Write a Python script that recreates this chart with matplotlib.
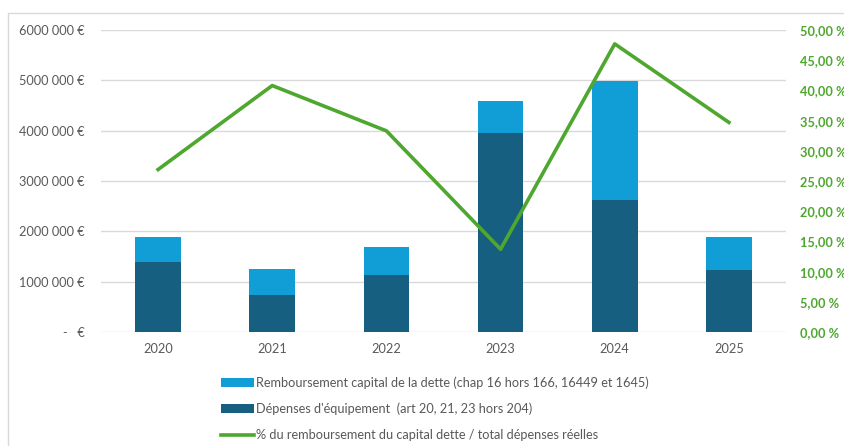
import matplotlib
matplotlib.use("Agg")
import matplotlib.pyplot as plt
from matplotlib.patches import Rectangle
from matplotlib.ticker import FuncFormatter, MultipleLocator

# ── data ─────────────────────────────────────────────────────
years = ["2020", "2021", "2022", "2023", "2024", "2025"]
equipement = [1390000, 740000, 1140000, 3950000, 2620000, 1230000]
remboursement = [505000, 520000, 540000, 630000, 2370000, 650000]
pct_remb = [26.9, 40.8, 33.3, 13.7, 47.7, 34.7]

LABEL_REMB = "Remboursement capital de la dette (chap 16 hors 166, 16449 et 1645)"
LABEL_EQUIP = "Dépenses d'équipement  (art 20, 21, 23 hors 204)"
LABEL_PCT = "% du remboursement du capital dette / total dépenses réelles"

C_LIGHT = "#119ED7"
C_DARK = "#175F81"
C_GREEN = "#4EA72E"
C_TEXT = "#595959"

plt.rcParams["font.family"] = ["Lato", "DejaVu Sans"]


def euro(v, _):
    if v == 0:
        return "-   €"
    s = f"{int(round(v)):d}"
    return f"{s[:-3]} {s[-3:]} €"


def pct(v, _):
    return f"{v:.2f}".replace(".", ",") + " %"


fig = plt.figure(figsize=(8.45, 4.46), dpi=100)
ax = fig.add_axes([101 / 845, 1 - 332 / 446, 685 / 845, 302 / 446])
x = range(len(years))

ax.bar(x, equipement, 0.4, color=C_DARK, label=LABEL_EQUIP, zorder=2)
ax.bar(x, remboursement, 0.4, bottom=equipement, color=C_LIGHT, label=LABEL_REMB, zorder=2)
ax.set_xlim(-0.5, len(years) - 0.5)
ax.set_ylim(0, 6000000)
ax.yaxis.set_major_locator(MultipleLocator(1000000))
ax.yaxis.set_major_formatter(FuncFormatter(euro))
ax.grid(axis="y", color="#D9D9D9", lw=1, zorder=0)
ax.set_axisbelow(True)
ax.set_xticks(list(x), years)
ax.tick_params(axis="both", length=0, colors=C_TEXT, labelsize=9.2)
ax.tick_params(axis="y", pad=12)
ax.tick_params(axis="x", pad=8)
for sp in ax.spines.values():
    sp.set_visible(False)

ax2 = ax.twinx()
ax2.plot(x, pct_remb, color=C_GREEN, lw=2.6, label=LABEL_PCT, zorder=3)
ax2.set_ylim(0, 50)
ax2.yaxis.set_major_locator(MultipleLocator(5))
ax2.yaxis.set_major_formatter(FuncFormatter(pct))
ax2.tick_params(axis="y", length=0, colors=C_GREEN, labelsize=9.2, pad=10)
for lab in ax2.get_yticklabels():
    lab.set_fontweight("bold")
for sp in ax2.spines.values():
    sp.set_visible(False)

h1, l1 = ax.get_legend_handles_labels()
h2, l2 = ax2.get_legend_handles_labels()
handles = [h1[1], h1[0], h2[0]]
labels = [l1[1], l1[0], l2[0]]
fig.legend(handles, labels, loc="upper left", bbox_to_anchor=(216 / 845, 1 - 371 / 446),
           frameon=False, fontsize=9.2, labelcolor=C_TEXT, handlelength=2.6,
           handleheight=0.7, handletextpad=0.1, labelspacing=1.1, borderaxespad=0)

# outer chart frame
fig.add_artist(Rectangle((8 / 845, -0.01), 1.0, 1 - 13 / 446 + 0.01,
                         transform=fig.transFigure, fill=False, ec="#D9D9D9", lw=1))

fig.savefig("out.png", dpi=100)
